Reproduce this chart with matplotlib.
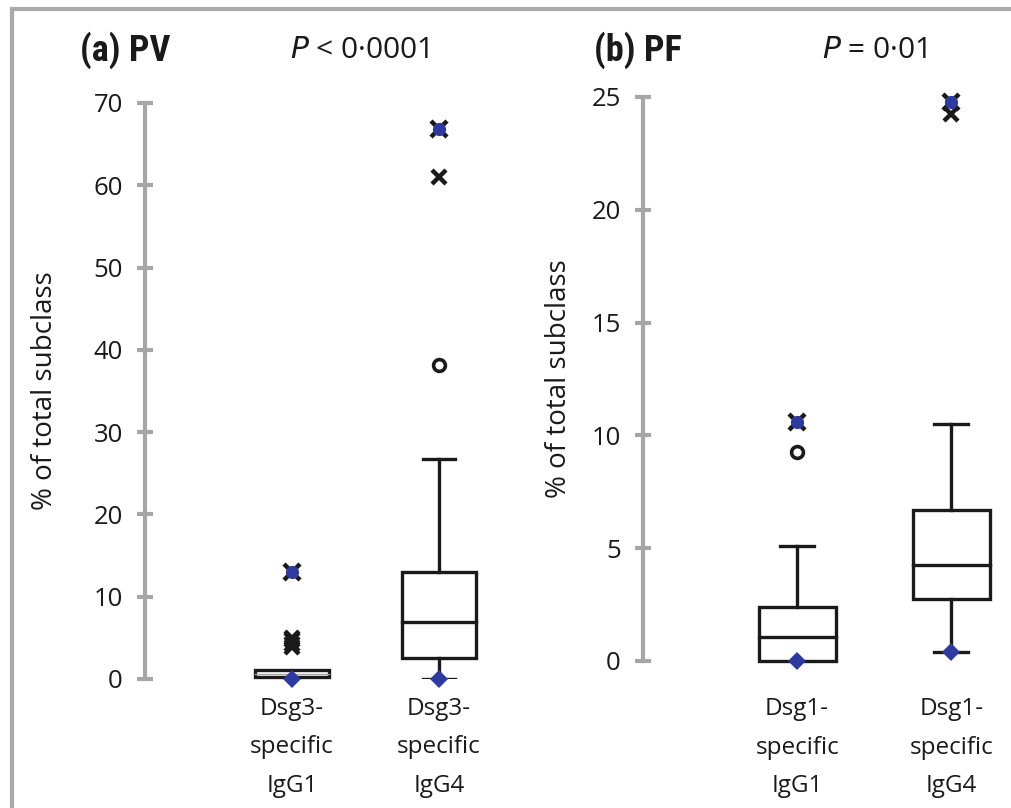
import matplotlib.pyplot as plt
from matplotlib.lines import Line2D
from matplotlib.patches import Rectangle

plt.rcParams['font.family'] = ['Open Sans', 'DejaVu Sans']

# panel (a) PV
pv_labels = ['Dsg3-\nspecific\nIgG1', 'Dsg3-\nspecific\nIgG4']
pv_q1 = [0.2, 2.55]
pv_med = [0.6, 6.9]
pv_q3 = [1.1, 13.0]
pv_whislo = [0.2, 0.0]
pv_whishi = [1.1, 26.7]
pv_min = [0.0, 0.0]
pv_max = [13.0, 66.9]
pv_out_x = [[3.9, 4.3, 4.7, 5.0], [61.0]]
pv_out_o = [[], [38.2]]

# panel (b) PF
pf_labels = ['Dsg1-\nspecific\nIgG1', 'Dsg1-\nspecific\nIgG4']
pf_q1 = [0.0, 2.75]
pf_med = [1.06, 4.26]
pf_q3 = [2.4, 6.7]
pf_whislo = [0.0, 0.4]
pf_whishi = [5.1, 10.5]
pf_min = [0.0, 0.4]
pf_max = [10.6, 24.8]
pf_out_x = [[], [24.25]]
pf_out_o = [[9.26], []]

GREY = '#a6a6a6'
BLUE = '#2e3a9e'
INK = '#1a1a1a'
LW = 2.4


def panel(ax, labels, q1, med, q3, wlo, whi, mn, mx, out_x, out_o, ymax, step, pad):
    w = 0.5
    for i in range(len(labels)):
        x = i + 1
        if whi[i] > q3[i]:
            ax.plot([x, x], [q3[i], whi[i]], color=INK, lw=LW, zorder=2)
            ax.plot([x - 0.11, x + 0.11], [whi[i], whi[i]], color=INK, lw=LW, zorder=2)
        if wlo[i] < q1[i]:
            ax.plot([x, x], [q1[i], wlo[i]], color=INK, lw=LW, zorder=2)
            ax.plot([x - 0.11, x + 0.11], [wlo[i], wlo[i]], color=INK, lw=LW, zorder=2)
        ax.add_patch(Rectangle((x - w / 2, q1[i]), w, q3[i] - q1[i], fill=False,
                               ec=INK, lw=LW, zorder=3, clip_on=False))
        thin = q3[i] - q1[i] < 2
        ax.plot([x - w / 2, x + w / 2], [med[i], med[i]], color=GREY if thin else INK,
                lw=1.0 if thin else LW, zorder=4)
        for v in out_x[i]:
            ax.plot(x, v, marker='x', color=INK, ms=10, mew=3.2, zorder=5, clip_on=False)
        for v in out_o[i]:
            ax.plot(x, v, marker='o', mfc='white', mec=INK, ms=8.5, mew=2.6, zorder=5)
        ax.plot(x, mx[i], marker='x', color=INK, ms=11, mew=3.2, zorder=5, clip_on=False)
        ax.plot(x, mx[i], marker='o', color=BLUE, ms=9.5, mew=0, zorder=6, clip_on=False)
        ax.plot(x, mn[i], marker='D', color=BLUE, ms=9.5, mew=0, zorder=6, clip_on=False)

    ax.set_ylim(0, ymax)
    ax.set_xlim(0, 2.45)
    ax.set_yticks(range(0, ymax + 1, step))
    ax.tick_params(axis='y', direction='inout', length=12, width=3, color=GREY,
                   labelsize=18.5, pad=10, labelcolor=INK)
    for s in ['top', 'right', 'bottom']:
        ax.spines[s].set_visible(False)
    ax.spines['left'].set_color(GREY)
    ax.spines['left'].set_linewidth(3)
    ax.set_xticks([1, 2])
    ax.set_xticklabels(labels, fontsize=17.5, linespacing=1.8, color=INK)
    ax.tick_params(axis='x', length=0, pad=pad)
    ax.set_ylabel('% of total subclass', fontsize=20, color=INK)
    ax.patch.set_alpha(0)


fig = plt.figure(figsize=(10.11, 8.08), dpi=100)

ax1 = fig.add_axes([145 / 1011, 1 - 679 / 808, 360 / 1011, 576 / 808])
panel(ax1, pv_labels, pv_q1, pv_med, pv_q3, pv_whislo, pv_whishi,
      pv_min, pv_max, pv_out_x, pv_out_o, 70, 10, 13)
ax1.yaxis.set_label_coords(-0.24, 0.5)

ax2 = fig.add_axes([643 / 1011, 1 - 661 / 808, 370 / 1011, 564 / 808])
panel(ax2, pf_labels, pf_q1, pf_med, pf_q3, pf_whislo, pf_whishi,
      pf_min, pf_max, pf_out_x, pf_out_o, 25, 5, 26)
ax2.set_xlim(0, 2.4)
ax2.yaxis.set_label_coords(-0.19, 0.5)

fig.text(80 / 1011, 1 - 50 / 808, '(a) PV', fontsize=26, fontweight='bold',
         va='center', family=['Roboto Condensed', 'Roboto', 'DejaVu Sans'], color=INK)
fig.text(290 / 1011, 1 - 50 / 808, r'$P$ < 0·0001', fontsize=21.5, va='center', color=INK)
fig.text(594 / 1011, 1 - 50 / 808, '(b) PF', fontsize=26, fontweight='bold',
         va='center', family=['Roboto Condensed', 'Roboto', 'DejaVu Sans'], color=INK)
fig.text(822 / 1011, 1 - 50 / 808, r'$P$ = 0·01', fontsize=21.5, va='center', color=INK)

# grey frame (top and left only)
fig.add_artist(Line2D([12 / 1011, 1], [1 - 9 / 808, 1 - 9 / 808], color='#aaaaaa', lw=3,
                      transform=fig.transFigure))
fig.add_artist(Line2D([12 / 1011, 12 / 1011], [0, 1 - 9 / 808], color='#aaaaaa', lw=3,
                      transform=fig.transFigure))

fig.savefig('out.png', dpi=100)
